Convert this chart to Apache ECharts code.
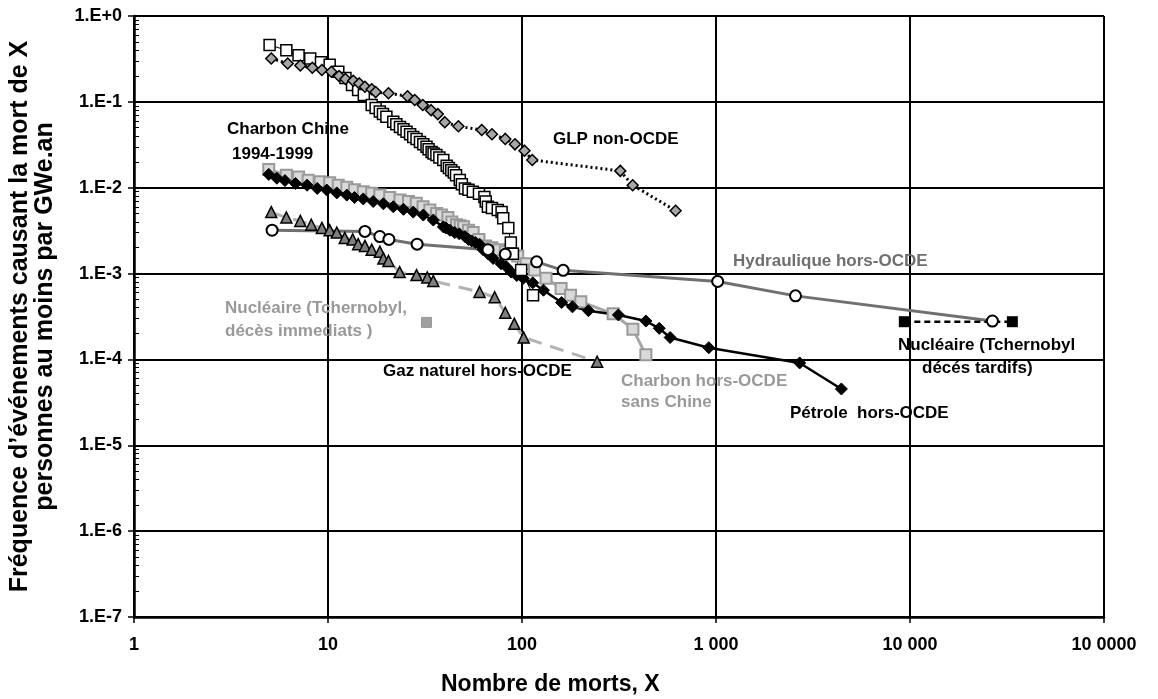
<!DOCTYPE html>
<html>
<head>
<meta charset="utf-8">
<script src="https://cdn.jsdelivr.net/npm/echarts@6/dist/echarts.min.js"></script>
<style>
html, body { margin: 0; padding: 0; background: #fff; }
#chart { width: 1158px; height: 699px; }
</style>
</head>
<body>
<div id="chart"></div>
<script>
// ticks
var xTicks = [1, 10, 100, 1000, 10000, 100000]
var xTickLabels = ['1', '10', '100', '1 000', '10 000', '10 0000']
var yTicks = [1e-7, 1e-6, 1e-5, 1e-4, 1e-3, 1e-2, 1e-1, 1]
var yTickLabels = ['1.E-7', '1.E-6', '1.E-5', '1.E-4', '1.E-3', '1.E-2', '1.E-1', '1.E+0']

// [morts X, frequence]
var glp = [[5.1, 0.32], [6.2, 0.28], [7.2, 0.265], [8.3, 0.25], [9.3, 0.235], [10.4, 0.224], [11.4, 0.2],
    [12.3, 0.185], [13.5, 0.176], [14.5, 0.164], [15.5, 0.15], [16.8, 0.14], [17.6, 0.13], [20.5, 0.126],
    [25.7, 0.116], [28, 0.105], [30.8, 0.092], [34, 0.08], [36.8, 0.072], [40, 0.058], [47, 0.052],
    [62, 0.047], [70, 0.042], [82, 0.037], [92, 0.032], [103, 0.027], [113, 0.021], [321, 0.0157],
    [372, 0.0107], [619, 0.0054]]

var charbonChine = [[5, 0.46], [6.1, 0.4], [7.05, 0.35], [8.1, 0.32], [9.2, 0.29], [10.2, 0.27], [11.3, 0.224],
    [12.3, 0.19], [13.3, 0.157], [14.3, 0.137], [15.3, 0.12], [16.8, 0.092], [17.6, 0.085], [18.5, 0.077],
    [19.2, 0.072], [20, 0.067], [21.7, 0.0585], [22.5, 0.055], [23.5, 0.051], [24.5, 0.048], [25.4, 0.045],
    [26.5, 0.042], [27.5, 0.039], [28.6, 0.037], [29.8, 0.034], [31, 0.032], [32.2, 0.03], [33, 0.028],
    [34.2, 0.026], [35, 0.025], [36.2, 0.024], [37.5, 0.0225], [39.3, 0.021], [40.9, 0.018], [42, 0.017],
    [43.2, 0.016], [44.5, 0.015], [45.7, 0.014], [47.8, 0.0123], [49, 0.011], [50.8, 0.0098], [53, 0.0095],
    [55.8, 0.009], [60, 0.0085], [64, 0.0078], [65, 0.0069], [66.7, 0.006], [70, 0.0058], [75, 0.0055],
    [78.5, 0.0052], [80, 0.0044], [85, 0.0034], [87.6, 0.0023], [89.8, 0.0017], [99, 0.0011], [114, 0.00056]]

var charbonHorsOCDE = [[4.95, 0.0163], [6.1, 0.014], [7.05, 0.0133], [7.9, 0.0122], [9.1, 0.0117], [10.2, 0.0114],
    [11.3, 0.0107], [12.5, 0.0101], [13.7, 0.0095], [15.2, 0.009], [16.8, 0.0086], [18.5, 0.0082], [20.8, 0.0077],
    [23.5, 0.0072], [26, 0.0069], [28.5, 0.0066], [30.9, 0.006], [33.5, 0.0055], [36.3, 0.005], [38.5, 0.0048],
    [41.5, 0.0045], [43.5, 0.004], [46, 0.0037], [48, 0.0036], [50, 0.0035], [53, 0.0032], [56, 0.003],
    [60, 0.0025], [65, 0.0021], [70, 0.002], [76, 0.0019], [82, 0.0018], [89, 0.0017], [95, 0.0016],
    [105, 0.0013], [116, 0.0011], [133, 0.00088], [159, 0.00067], [178, 0.00056], [201, 0.00047], [295, 0.00034],
    [373, 0.000225], [435, 0.000113]]

var petrole = [[4.95, 0.0143], [5.45, 0.0129], [6, 0.0121], [6.8, 0.0112], [7.8, 0.0107], [8.8, 0.0098],
    [9.85, 0.0094], [11.1, 0.0087], [12.5, 0.0082], [13.7, 0.0077], [15.2, 0.0074], [17.1, 0.0069], [19.3, 0.0065],
    [21.7, 0.006], [24.5, 0.0056], [27.5, 0.0052], [31, 0.0048], [34.9, 0.0042], [39.3, 0.0035], [40.5, 0.0034],
    [42.5, 0.0032], [45, 0.003], [47.5, 0.0029], [50.8, 0.0027], [53, 0.0025], [55, 0.0024], [57.5, 0.0023],
    [60.4, 0.0022], [63, 0.0019], [66.8, 0.0017], [71, 0.0015], [78, 0.0013], [83, 0.0012], [88, 0.00104],
    [94, 0.00095], [101.5, 0.00088], [113.6, 0.00078], [129, 0.00064], [160, 0.00046], [182, 0.00041],
    [220, 0.00037], [314, 0.00033], [435, 0.00028], [510, 0.00023], [580, 0.00018], [918, 0.000137],
    [2700, 0.000091], [4430, 0.0000453]]

var gaz = [[5.1, 0.0052], [6.1, 0.0045], [7.2, 0.0041], [8.2, 0.0037], [9.3, 0.0034], [10.2, 0.0032], [11.1, 0.003],
    [12.2, 0.0026], [13.4, 0.0025], [14.3, 0.0022], [15.5, 0.0021], [16.8, 0.0019], [18.5, 0.0018], [19.3, 0.0015],
    [20.5, 0.0014], [23.4, 0.00104], [28.6, 0.00096], [32.5, 0.0009], [34.9, 0.00082], [60.4, 0.00061],
    [72.3, 0.00053], [82, 0.00035], [91.3, 0.00026], [102, 0.00018], [244, 0.000094]]

var hydraulique = [[5.15, 0.0032], [15.5, 0.0031], [18.5, 0.0027], [20.6, 0.0025], [28.8, 0.0022], [66.8, 0.0019],
    [82, 0.00168], [119, 0.00137], [163, 0.00109], [1020, 0.00081], [2570, 0.00055], [26600, 0.00028]]

var nucImmediat = [[32.2, 0.00027]]
var nucTardif = [[9350, 0.000275], [33700, 0.000275]]

var FONT = '"Liberation Sans", Arial, sans-serif'

var yMinor = []
for (var e = -7; e < 0; e++) {
    for (var m = 2; m <= 9; m++) yMinor.push(m * Math.pow(10, e))
}

function tickText(ticks, labels) {
    return function (v) {
        for (var i = 0; i < ticks.length; i++) {
            if (Math.abs(Math.log10(ticks[i]) - Math.log10(v)) < 1e-6) return labels[i]
        }
        return ''
    }
}

function note(text, x, y, color, size) {
    return {
        type: 'text', x: x, y: y, z: 100,
        style: { text: text, fill: color || '#000', font: 'bold ' + (size || 17) + 'px ' + FONT, textVerticalAlign: 'middle' }
    }
}

var chart = echarts.init(document.getElementById('chart'))

var option = {
    animation: false,
    backgroundColor: '#fff',
    grid: { left: 132, right: 54, top: 16, bottom: 82 },
    xAxis: {
        type: 'log', logBase: 10, min: 1, max: 100000,
        axisLine: { lineStyle: { color: '#000', width: 2.5 } },
        axisTick: { length: 6, lineStyle: { color: '#000', width: 1.5 } },
        axisLabel: { margin: 19, formatter: tickText(xTicks, xTickLabels), fontFamily: FONT, fontWeight: 'bold', fontSize: 18, color: '#000' },
        splitLine: { show: true, lineStyle: { color: '#000', width: 2 } }
    },
    yAxis: [{
        type: 'log', logBase: 10, min: 1e-7, max: 1,
        name: "Fréquence d’événements causant la mort de X\npersonnes au moins par GWe.an",
        nameLocation: 'middle', nameRotate: 90, nameGap: 76,
        nameTextStyle: { fontFamily: FONT, fontWeight: 'bold', fontSize: 25, lineHeight: 25, color: '#000' },
        axisLine: { lineStyle: { color: '#000', width: 2.5 } },
        axisTick: { length: 6, lineStyle: { color: '#000', width: 1.5 } },
        axisLabel: { margin: 12, formatter: tickText(yTicks, yTickLabels), fontFamily: FONT, fontWeight: 'bold', fontSize: 18, color: '#000' },
        splitLine: { show: true, lineStyle: { color: '#000', width: 2 } }
    }, {
        type: 'log', logBase: 10, min: 1e-7, max: 1, position: 'left',
        axisLine: { show: false },
        axisLabel: { show: false },
        splitLine: { show: false },
        axisTick: { show: true, inside: true, length: 5, customValues: yMinor, lineStyle: { color: '#000', width: 1 } }
    }],
    series: [{
        name: 'Charbon hors-OCDE sans Chine', type: 'line', data: charbonHorsOCDE,
        symbol: 'rect', symbolSize: 11,
        itemStyle: { color: '#d9d9d9', borderColor: '#999', borderWidth: 2 },
        lineStyle: { color: '#a6a6a6', width: 3 }
    }, {
        name: 'Pétrole hors-OCDE', type: 'line', data: petrole,
        symbol: 'diamond', symbolSize: 12,
        itemStyle: { color: '#000', borderColor: '#000', borderWidth: 1 },
        lineStyle: { color: '#000', width: 2.5 }
    }, {
        name: 'Gaz naturel hors-OCDE', type: 'line', data: gaz,
        symbol: 'triangle', symbolSize: 11,
        itemStyle: { color: '#7f7f7f', borderColor: '#000', borderWidth: 1.5 },
        lineStyle: { color: '#b3b3b3', width: 3, type: [14, 9] }
    }, {
        name: 'Charbon Chine 1994-1999', type: 'line', data: charbonChine,
        symbol: 'rect', symbolSize: 11,
        itemStyle: { color: '#fff', borderColor: '#000', borderWidth: 1.5 },
        lineStyle: { color: '#000', width: 1 }
    }, {
        name: 'GLP non-OCDE', type: 'line', data: glp,
        symbol: 'diamond', symbolSize: 11,
        itemStyle: { color: '#a6a6a6', borderColor: '#000', borderWidth: 1.5 },
        lineStyle: { color: '#000', width: 3, type: [2, 3] }
    }, {
        name: 'Hydraulique hors-OCDE', type: 'line', data: hydraulique,
        symbol: 'circle', symbolSize: 11,
        itemStyle: { color: '#fff', borderColor: '#000', borderWidth: 2 },
        lineStyle: { color: '#707070', width: 3 }
    }, {
        name: 'Nucléaire (Tchernobyl, décès immediats)', type: 'line', data: nucImmediat,
        symbol: 'rect', symbolSize: 10,
        itemStyle: { color: '#a0a0a0', borderColor: '#999', borderWidth: 1 }
    }, {
        name: 'Nucléaire (Tchernobyl décés tardifs)', type: 'line', data: nucTardif,
        symbol: 'rect', symbolSize: 11,
        itemStyle: { color: '#000' },
        lineStyle: { color: '#000', width: 2.5, type: [6, 4] }
    }],
    graphic: [
        note('Charbon Chine', 227, 129),
        note('1994-1999', 232, 154),
        note('GLP non-OCDE', 553, 139),
        note('Hydraulique hors-OCDE', 733, 261, '#6f6f6f'),
        note('Nucléaire (Tchernobyl,', 225, 308, '#999'),
        note('décès immediats )', 225, 331, '#999'),
        note('Gaz naturel hors-OCDE', 383, 371),
        note('Charbon hors-OCDE', 621, 381, '#999'),
        note('sans Chine', 621, 402, '#999'),
        note('Pétrole  hors-OCDE', 790, 413),
        note('Nucléaire (Tchernobyl', 898, 345),
        note('décés tardifs)', 922, 368),
        note('Nombre de morts, X', 441, 685, '#000', 23)
    ]
}

chart.setOption(option)
</script>
</body>
</html>
